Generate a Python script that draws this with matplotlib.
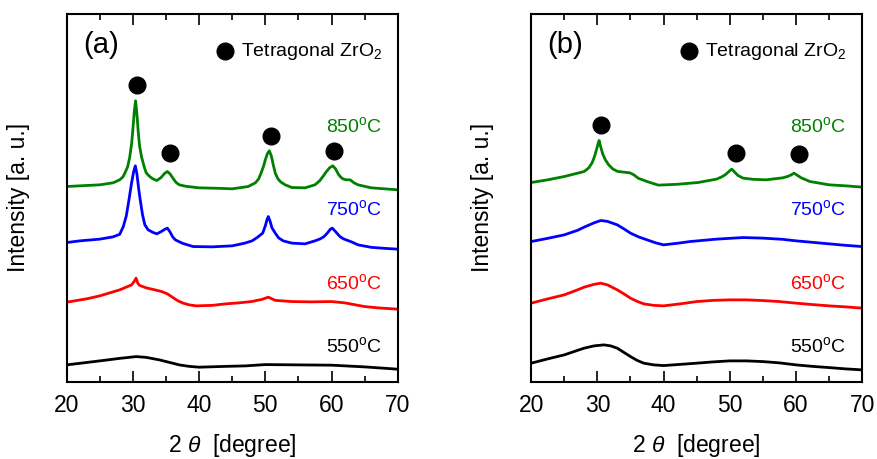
import matplotlib
matplotlib.use("Agg")
import matplotlib.pyplot as plt
from matplotlib.ticker import MultipleLocator

plt.rcParams['font.family'] = ['Liberation Sans', 'DejaVu Sans']
plt.rcParams['mathtext.fontset'] = 'custom'
plt.rcParams['mathtext.rm'] = 'Liberation Sans'
plt.rcParams['mathtext.it'] = 'Liberation Sans:italic'

# intensities in a.u. (curves already stacked with offsets)
# panel (a)
a850_x = [20, 22, 25, 27, 28, 28.5, 28.8, 29.2, 29.5, 29.8, 30.0, 30.2, 30.4, 30.6, 30.8, 31.0, 31.3, 31.7, 32.0, 32.5,
          33.0, 33.6, 34.2, 34.8, 35.2, 35.6, 36.0, 36.5, 37, 38, 40, 43, 45,
          47.4, 48.5, 49.0, 49.35, 49.7, 50.0, 50.3, 50.6, 50.9, 51.2, 51.5, 51.9, 52.3, 53, 54, 56,
          57.5, 58.2, 58.7, 59.2, 59.7, 60.2, 60.6, 61.0, 61.3, 61.7, 62.2, 62.8, 63.4, 64, 66, 68, 70]
a850_y = [195.3, 196, 197, 199, 202, 205, 209, 215, 224, 238, 253, 270, 281, 268, 250, 236, 225, 215, 209, 205.5,
          203, 201.3, 204, 208.5, 210.3, 208, 204, 199.5, 197, 195.5, 194, 193.5, 193,
          195.3, 199, 203, 208.7, 215, 222, 228, 231, 226, 217, 208.7, 203, 200, 197, 194.3, 194,
          197, 201, 205.3, 210, 214, 216, 213, 208, 205.3, 203, 202, 202, 199, 197, 194, 193, 192]

a750_x = [20, 22, 25, 27, 28, 28.55, 29.0, 29.4, 29.8, 30.1, 30.36, 30.6, 30.85, 31.1, 31.45, 31.8, 32.3, 33.0, 33.6,
          34.2, 34.8, 35.2, 35.6, 36.0, 36.4, 37.5, 39.1, 42, 45,
          46.9, 48.0, 48.8, 49.6, 50.0, 50.25, 50.45, 50.7, 51.0, 51.5, 52.0, 52.7, 54, 56,
          57.5, 58.3, 58.87, 59.4, 59.8, 60.1, 60.5, 60.9, 61.27, 61.8, 62.4, 63, 64, 66, 68, 70]
a750_y = [139.3, 141, 142.7, 145, 147.5, 155.3, 166, 182, 199, 210, 216, 208, 194, 182, 167, 157, 152, 149.5, 148,
          150, 152.5, 153.7, 150, 145, 142, 138.5, 135.3, 135, 136,
          138.7, 141, 144.5, 148.7, 156, 162, 165.3, 161, 154, 148.7, 144, 141, 138.7, 138,
          141, 143, 145.3, 149, 152.5, 153.7, 151, 148, 145.3, 143, 141.5, 140, 137, 134.5, 133.5, 132.7]

a650_x = [20, 23, 25, 28, 29.8, 30.2, 30.47, 30.75, 31.0, 32, 33, 34.35, 35.2, 36, 36.8, 37.6, 38.5, 39.6, 42, 44, 46,
          47.9, 49.5, 50.45, 51.5, 54, 57, 60, 62, 65, 67, 70]
a650_y = [79.7, 83, 86, 92, 97, 100.5, 103.7, 98.5, 96.5, 94, 92.5, 90.3, 88, 84.5, 81, 78.7, 77, 76, 76.5, 78, 79,
          80.3, 82.5, 84.7, 81.5, 80.3, 80, 80.3, 79, 75.3, 74, 72.7]

a550_x = [20, 22.5, 25, 28, 30.5, 32, 34, 35.5, 37, 38.5, 40, 44, 47, 50, 55, 60, 65, 70]
a550_y = [17, 19, 21, 23.5, 25.3, 24.5, 22, 19.5, 17, 15.5, 14.7, 15.5, 16, 17.3, 17, 16.7, 15, 12.7]

# panel (b)
b850_x = [20, 22.5, 25, 28, 28.7, 29.2, 29.6, 29.9, 30.1, 30.26, 30.5, 30.8, 31.2, 31.7, 32.3, 33, 34.2, 34.9, 35.5,
          36.2, 37.5, 39.2, 42, 45.2, 48, 48.8, 49.4, 49.9, 50.3, 50.7, 51.2, 52, 53.5, 55.5,
          58, 58.8, 59.3, 59.7, 60.2, 60.8, 62.1, 65, 67.5, 70]
b850_y = [199.3, 202, 205.3, 210.3, 214, 219, 226, 233, 238, 241.3, 235, 228, 222, 217, 213, 210.5, 209.5, 209, 207,
          203.5, 200.3, 196.7, 197.5, 199.3, 202.7, 205, 207.5, 210.5, 212.7, 210, 206.5, 203.7, 202.5, 202,
          204, 205.5, 207, 208.7, 206.5, 204, 200.3, 197, 196, 194.7]

b750_x = [20, 22.5, 25, 27, 28, 29.5, 30.5, 31.5, 33, 34, 35, 36.2, 37.5, 38.8, 40, 42, 44, 46, 48, 50, 52, 55, 58,
          60, 62.5, 65, 67.5, 70]
b750_y = [140.3, 143.5, 147, 151.5, 154.7, 159, 161.3, 160.5, 157, 153, 148.7, 145, 142, 139, 137, 138.5, 140.3, 141.5,
          142.7, 143.5, 144.3, 143.7, 142.5, 141, 139.5, 138, 136.5, 135.3]

b650_x = [20, 22.5, 25, 27, 28, 29.5, 30.5, 31.5, 33, 34, 35, 36, 37, 38.5, 40, 42.5, 45, 47.5, 50, 52.5, 55, 57.5,
          60, 62.5, 65, 67.5, 70]
b650_y = [78.7, 83, 87, 92, 94.7, 97.5, 98.7, 97, 92, 88, 83.7, 80.5, 78, 76.5, 76, 78, 80.3, 81.5, 82, 82, 81.3, 80.3,
          78.7, 77.3, 76, 75, 73.7]

b550_x = [20, 22.5, 25, 27, 28, 29.5, 31, 32, 33, 34, 35, 36, 37, 38.5, 40, 42.5, 45, 47.5, 50, 52.5, 55, 57.5, 60,
          62.5, 65, 67.5, 70]
b550_y = [18.7, 23, 27, 31.5, 33.7, 36, 37, 36, 33.7, 29.5, 25.3, 21.5, 18.7, 17, 16.3, 17.5, 18.7, 20, 21, 21, 20.3,
          19, 17, 15.5, 14.3, 13, 12]

# peak markers (2theta, height)
a_peak_x = [30.55, 35.6, 50.8, 60.4]
a_peak_y = [297, 228.7, 246, 231]
b_peak_x = [30.55, 50.87, 60.5]
b_peak_y = [257, 229.3, 227.7]

temps = ["850", "750", "650", "550"]
colors = ["#008000", "#0000ff", "#ff0000", "#000000"]
label_y = [256, 173, 99, 36]

panels = [
    ("(a)", [(a850_x, a850_y), (a750_x, a750_y), (a650_x, a650_y), (a550_x, a550_y)], a_peak_x, a_peak_y, 0.076),
    ("(b)", [(b850_x, b850_y), (b750_x, b750_y), (b650_x, b650_y), (b550_x, b550_y)], b_peak_x, b_peak_y, 0.605),
]

fig = plt.figure(figsize=(8.78, 4.59), dpi=100)

for tag, curves, px, py, left in panels:
    ax = fig.add_axes([left, 0.168, 0.377, 0.802])
    for (xs, ys), c in zip(curves, colors):
        ax.plot(xs, ys, color=c, lw=2.0)
    ax.plot(px, py, 'o', color='black', ms=12)
    for t, c, ly in zip(temps, colors, label_y):
        ax.text(67.6, ly, t + r"$^{\rm o}$C", color=c, fontsize=14, ha='right', va='center')
    ax.text(0.05, 0.915, tag, transform=ax.transAxes, fontsize=21, va='center')
    ax.plot([43.9], [330.3], 'o', color='black', ms=12)
    ax.text(46.3, 330.3, r"Tetragonal ZrO$_2$", fontsize=14, va='center')

    ax.set_xlim(20, 70)
    ax.set_ylim(0, 368)
    ax.xaxis.set_major_locator(MultipleLocator(10))
    ax.xaxis.set_minor_locator(MultipleLocator(5))
    ax.set_yticks([])
    ax.tick_params(axis='x', which='both', direction='in', top=True, width=1.2, labelsize=16.5, pad=9)
    ax.tick_params(axis='x', which='major', length=8)
    ax.tick_params(axis='x', which='minor', length=4.5)
    for s in ax.spines.values():
        s.set_linewidth(1.5)
    ax.set_xlabel(r"2 $\it{\theta}$  [degree]", fontsize=16.5)
    ax.set_ylabel("Intensity [a. u.]", fontsize=16.5)
    ax.xaxis.set_label_coords(0.5, -0.135)
    ax.yaxis.set_label_coords(-0.112, 0.5)

fig.savefig("out.png", dpi=100)
